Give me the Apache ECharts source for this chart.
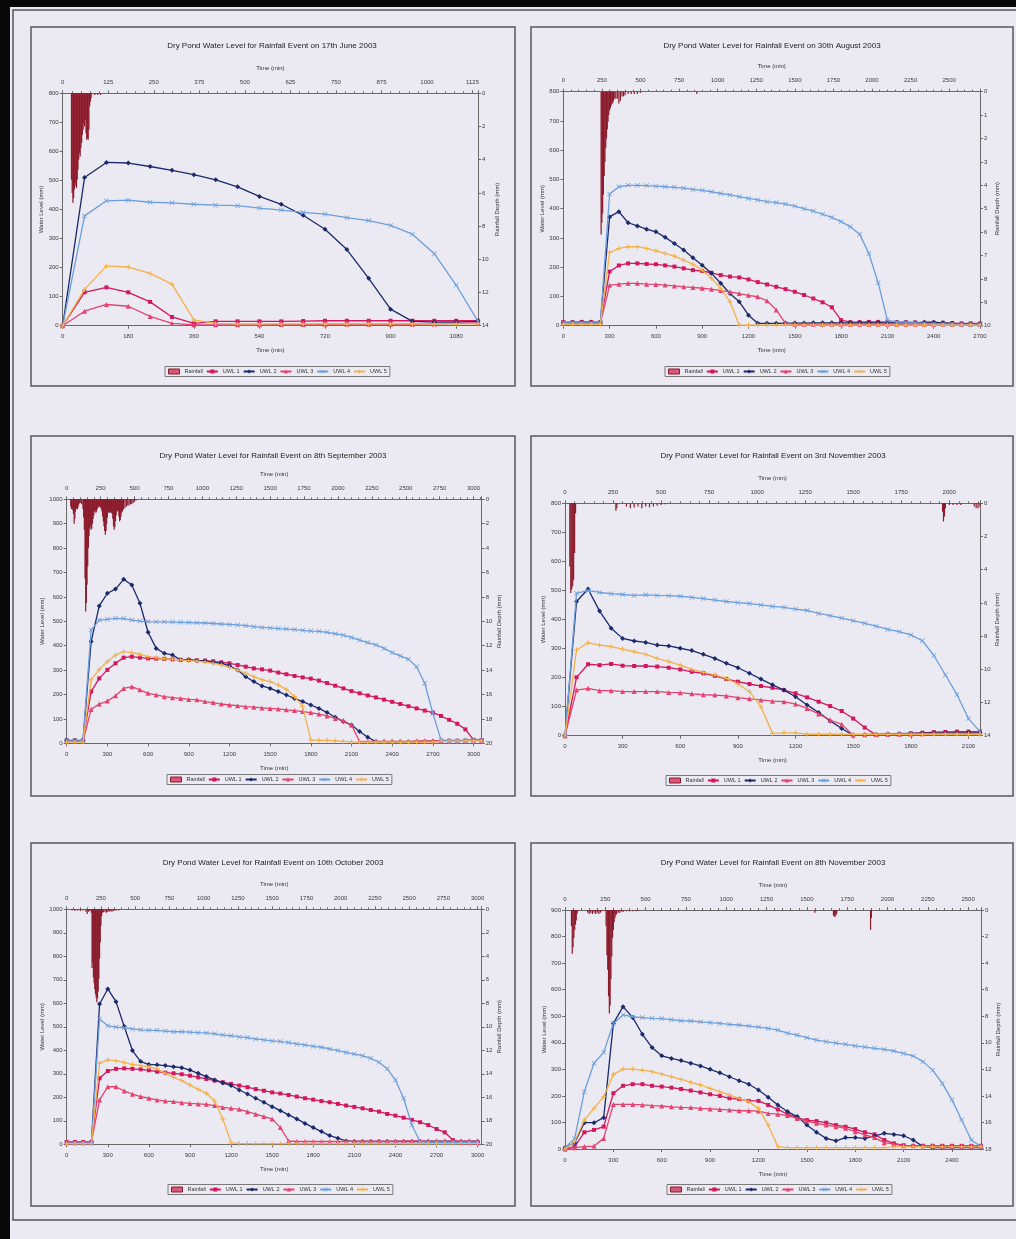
<!DOCTYPE html>
<html><head><meta charset="utf-8">
<script src="https://cdn.jsdelivr.net/npm/echarts@6/dist/echarts.min.js"></script>
<style>html,body{margin:0;padding:0;background:#ebeaf2;}#c{width:1016px;height:1239px;}</style>
</head><body><div id="c"></div>
<script>
// ---------- shared time grid (min) ----------
const TIME = [0,60,120,180,240,300,360,420,480,540,600,660,720,780,840,900,960,1020,1080,1140,1200,1260,1320,1380,1440,1500,1560,1620,1680,1740,1800,1860,1920,1980,2040,2100,2160,2220,2280,2340,2400,2460,2520,2580,2640,2700,2760,2820,2880,2940,3000,3060];
const SERIES_NAMES = ['UWL 1','UWL 2','UWL 3','UWL 4','UWL 5'];
const TITLES = [
 'Dry Pond Water Level for Rainfall Event on 17th June 2003',
 'Dry Pond Water Level for Rainfall Event on 30th August 2003',
 'Dry Pond Water Level for Rainfall Event on 8th September 2003',
 'Dry Pond Water Level for Rainfall Event on 3rd November 2003',
 'Dry Pond Water Level for Rainfall Event on 10th October 2003',
 'Dry Pond Water Level for Rainfall Event on 8th November 2003'
];

// ---------- 17 June 2003 ----------
const JUN17_UWL1 = [0,115,132,115,82,30,8,15,15,15,15,16,17,17,17,17,17,17,17,17];
const JUN17_UWL2 = [0,510,562,560,548,535,520,502,478,445,418,380,332,262,163,57,15,12,12,15];
const JUN17_UWL3 = [0,50,73,67,32,8,3,3,3,3,4,4,5,5,5,5,5,6,8,10];
const JUN17_UWL4 = [0,378,430,432,425,423,418,415,413,405,398,390,384,372,362,345,315,248,140,15];
const JUN17_UWL5 = [0,125,205,202,180,143,20,8,6,6,6,6,6,6,6,6,6,6,6,6];
const JUN17_RAIN_T = [24,26,28,30,32,34,36,38,40,42,44,46,48,50,52,54,56,58,60,62,64,66,68,70,72,74,76,78,88,96,104];
const JUN17_RAIN_D = [5.2,6.0,6.6,6.3,5.8,5.6,5.4,5.7,5.2,4.6,4.0,3.6,3.8,3.3,3.0,2.5,2.2,1.8,2.0,1.6,2.4,2.8,2.7,2.8,2.2,0.8,0.5,0.3,0.1,0.1,0.1];

// ---------- 30 August 2003 ----------
const AUG30_UWL1 = [12,12,13,13,12,185,206,213,213,211,210,206,202,196,190,187,181,173,168,165,158,149,141,133,125,116,105,93,80,63,19,12,12,13,13,12,12,12,11,10,10,10,9,8,8,8];
const AUG30_UWL2 = [10,10,10,10,10,372,390,352,341,330,321,302,281,259,232,207,179,145,110,82,36,8,8,8,9,9,9,10,10,10,10,10,10,10,10,10,10,10,10,12,12,10,8,6,5,5];
const AUG30_UWL3 = [8,8,8,8,8,138,142,145,145,142,141,139,136,133,131,128,125,120,116,110,104,99,85,54,8,5,5,5,5,5,5,5,5,5,5,5,5,5,5,5,5,5,5,5,5,5];
const AUG30_UWL4 = [10,10,10,10,10,450,475,480,480,479,477,475,473,470,466,463,458,452,447,441,435,430,424,421,416,409,400,392,381,370,356,338,313,247,147,19,12,12,10,8,6,5,5,4,4,4];
const AUG30_UWL5 = [5,5,5,5,5,250,264,270,270,264,256,247,238,224,210,190,162,128,82,2,2,2,2,2,2,2,2,2,2,2,2,2,2,2,2,2,2,2,2,2,2,2,2,2,2,2];
const AUG30_RAIN_T = [245,250,255,260,265,270,275,280,285,290,295,300,305,310,315,320,325,330,340,350,360,370,380,390,400,420,440,460,480,500,865];
const AUG30_RAIN_D = [6.1,5.6,5.2,4.4,3.6,3.0,2.4,2.0,1.6,1.3,1.0,0.8,0.7,0.6,0.5,0.5,0.4,0.3,0.3,0.3,0.5,0.4,0.2,0.2,0.15,0.1,0.1,0.1,0.1,0.05,0.1];

// ---------- 8 September 2003 ----------
const SEP8_UWL1 = [12,12,12,212,266,301,328,351,355,351,348,347,346,344,342,342,340,339,336,332,328,321,314,307,303,298,290,283,276,270,265,257,247,236,225,214,205,196,188,179,170,161,152,143,134,126,112,96,80,57,14,12];
const SEP8_UWL2 = [10,10,10,417,563,615,632,672,649,574,455,389,369,362,342,342,339,337,332,328,318,300,273,253,235,225,212,198,184,171,157,143,126,107,89,75,48,25,7,6,6,6,6,6,8,8,8,10,10,12,12,12];
const SEP8_UWL3 = [8,8,8,139,161,173,195,225,232,219,205,198,191,187,184,180,178,171,167,161,157,154,150,148,145,143,141,137,134,130,126,120,112,102,93,75,7,8,8,8,8,8,8,10,10,10,12,12,12,12,14,14];
const SEP8_UWL4 = [10,10,10,464,505,508,512,511,505,501,499,498,498,497,496,495,494,493,491,489,487,485,482,478,475,473,470,468,466,463,460,459,455,449,443,434,423,413,403,389,372,358,344,314,246,123,14,10,10,10,12,12];
const SEP8_UWL5 = [5,5,5,260,303,335,362,376,372,365,355,351,347,344,342,339,337,333,328,321,311,300,287,273,260,253,239,221,191,150,14,12,12,10,8,6,5,5,5,5,5,5,5,5,5,5,8,8,8,10,10,10];
const SEP8_RAIN_T = [30,35,40,45,50,55,60,65,70,75,80,85,90,95,100,110,120,125,130,135,140,145,150,155,160,165,170,175,180,185,190,195,200,205,210,215,220,225,230,235,240,245,250,255,260,265,270,275,280,285,290,295,300,305,310,315,320,325,330,335,340,345,350,355,360,365,370,375,380,385,390,395,400,405,410,415,420,430,440,450,460,470,480,490,500,510];
const SEP8_RAIN_D = [0.6,0.8,0.7,0.9,1.2,2.0,1.6,1.0,0.8,0.7,0.8,0.6,0.4,0.3,0.3,0.4,0.8,1.5,2.5,6.5,9.2,8.5,7.0,5.5,4.0,3.0,2.4,2.2,2.5,2.4,2.0,1.6,1.3,1.0,0.9,1.1,1.0,0.8,0.7,0.6,0.6,0.6,0.7,0.8,1.0,1.4,1.8,2.2,2.6,2.9,2.6,2.0,1.5,1.1,1.0,1.1,1.1,1.0,1.1,1.2,1.6,2.2,2.5,2.3,1.8,1.3,1.0,0.9,1.0,1.4,1.8,1.7,1.4,1.1,1.0,0.9,0.8,0.7,0.6,0.5,0.5,0.4,0.4,0.3,0.2,0.1];

// ---------- 3 November 2003 ----------
const NOV3_UWL1 = [0,201,246,243,247,241,240,240,238,234,228,220,215,206,195,186,178,171,165,157,146,132,117,102,85,59,28,2,4,5,8,10,12,13,14,14,14];
const NOV3_UWL2 = [0,462,505,429,370,335,326,321,312,309,301,293,280,266,249,234,215,195,175,157,134,106,80,51,25,2,4,5,6,7,8,9,10,10,10,10,10];
const NOV3_UWL3 = [0,157,163,155,155,152,152,152,152,149,148,144,141,140,137,131,127,123,119,117,109,94,75,54,39,2,3,4,5,5,6,7,8,8,8,8,8];
const NOV3_UWL4 = [0,490,500,493,489,486,483,485,483,482,480,476,472,467,462,458,455,450,445,442,436,431,421,413,405,396,387,377,366,358,347,327,276,209,142,59,14];
const NOV3_UWL5 = [0,295,320,312,307,298,289,280,266,255,243,228,218,209,197,178,152,100,8,10,10,5,5,5,5,5,5,5,5,5,5,5,5,5,5,5,5];
const NOV3_RAIN_T = [25,30,35,40,45,50,55,265,270,320,340,360,380,400,420,440,460,480,500,520,1965,1970,1975,1980,2000,2020,2040,2060,2130,2140,2150,2160];
const NOV3_RAIN_D = [3.8,5.4,5.2,5.0,4.6,3.0,0.6,0.45,0.3,0.2,0.3,0.25,0.2,0.3,0.2,0.25,0.2,0.15,0.1,0.05,0.5,1.1,0.8,0.3,0.1,0.1,0.1,0.1,0.2,0.3,0.3,0.2];

// ---------- 10 October 2003 ----------
const OCT10_UWL1 = [10,10,10,10,281,312,321,323,321,319,315,309,305,302,298,292,285,278,271,264,257,250,243,235,228,221,216,210,203,196,190,184,179,172,165,159,153,146,139,129,122,113,104,94,82,65,51,18,5,5,5];
const OCT10_UWL2 = [5,5,5,5,597,661,607,501,399,352,340,338,335,330,326,316,302,288,274,261,250,231,214,196,179,160,143,125,108,89,71,54,37,26,14,12,12,12,12,12,12,12,12,12,12,12,12,12,12,12,12];
const OCT10_UWL3 = [8,8,8,8,189,245,245,227,213,203,196,189,184,182,177,174,172,170,165,157,153,149,139,128,118,108,71,14,12,12,12,12,12,12,12,13,13,13,13,13,13,14,14,14,14,14,14,14,14,14,14];
const OCT10_UWL4 = [5,5,5,5,533,504,499,496,491,487,485,485,482,479,479,477,475,474,470,465,462,457,454,448,444,440,437,433,427,423,417,413,406,399,391,384,377,366,349,321,274,196,82,11,8,8,8,8,8,8,8];
const OCT10_UWL5 = [3,3,3,3,345,359,356,348,340,335,330,321,302,285,271,252,234,217,184,108,7,3,3,3,3,3,3,3,3,3,3,3,3,3,3,3,3,3,3,3,3,3,3,3,3,3,3,3,3,3,3];
const OCT10_RAIN_T = [40,60,80,100,120,140,150,160,170,180,185,190,195,200,205,210,215,220,225,230,235,240,245,250,255,260,270,280,290,300,310,320,330,340,350,360,380];
const OCT10_RAIN_D = [0.1,0.15,0.1,0.15,0.1,0.2,0.4,0.2,0.15,0.3,5.0,4.5,5.8,6.3,6.8,7.2,7.5,7.9,7.6,7.0,5.9,4.2,2.8,1.4,0.6,0.3,0.25,0.2,0.3,0.2,0.2,0.15,0.2,0.15,0.1,0.1,0.1];

// ---------- 8 November 2003 ----------
const NOV8_UWL1 = [0,9,63,72,84,210,238,244,244,238,235,231,226,220,213,206,200,191,188,181,181,166,149,131,118,109,105,99,90,84,75,63,55,34,21,14,12,12,12,12,12,12,12,12];
const NOV8_UWL2 = [5,24,99,99,118,473,536,495,432,382,351,341,333,323,313,300,287,272,257,244,222,195,166,141,122,90,63,40,31,43,43,40,49,59,55,50,34,9,5,5,5,5,5,5];
const NOV8_UWL3 = [0,5,9,11,40,168,168,168,166,163,162,159,157,156,153,151,149,147,144,144,143,134,131,126,115,105,97,90,84,78,65,53,43,24,18,12,12,12,12,10,10,10,10,10];
const NOV8_UWL4 = [5,40,216,323,364,473,505,498,495,492,491,487,483,482,479,476,473,469,467,463,459,454,448,436,429,419,410,404,399,394,388,384,379,375,369,360,350,329,297,247,185,109,34,9];
const NOV8_UWL5 = [0,28,109,153,197,281,301,301,297,291,282,272,262,251,241,228,216,203,191,178,153,90,9,5,5,5,5,5,5,5,5,5,5,5,8,8,8,8,8,8,8,8,8,8];
const NOV8_RAIN_T = [40,45,50,55,60,65,70,75,80,140,150,160,170,180,190,200,210,220,230,255,260,265,270,275,280,285,290,295,300,305,310,315,320,330,340,350,360,380,400,420,440,460,1550,1665,1670,1675,1680,1685,1895,1900];
const NOV8_RAIN_D = [1.2,3.3,2.8,2.1,1.5,1.1,0.8,0.3,0.1,0.2,0.3,0.2,0.3,0.2,0.3,0.2,0.3,0.2,0.1,1.2,3.4,4.5,6.5,7.8,7.2,5.2,3.5,2.1,1.5,0.9,0.6,0.4,0.3,0.2,0.2,0.1,0.15,0.1,0.1,0.1,0.1,0.05,0.2,0.4,0.5,0.5,0.4,0.3,1.5,0.6];

// ---------- layout / styling ----------
const FONT = '"Liberation Sans", Arial, sans-serif';
const LINE_STYLES = [
  {color:'#d2175c', symbol:'rect', size:4},
  {color:'#1c2a6c', symbol:'diamond', size:5},
  {color:'#e2436f', symbol:'triangle', size:5},
  {color:'#6b9edb', symbol:'path://M0,1L1,0L5,4L9,0L10,1L6,5L10,9L9,10L5,6L1,10L0,9L4,5Z', size:5},
  {color:'#f2b14a', symbol:'path://M4,0H6V4H10V6H6V10H4V6H0V4H4Z', size:5}
];
const RAIN_COLOR = '#8b1a2b';
const PANELS = [
 {uwl:[JUN17_UWL1,JUN17_UWL2,JUN17_UWL3,JUN17_UWL4,JUN17_UWL5], rt:JUN17_RAIN_T, rd:JUN17_RAIN_D,
  xMax:1140, xInt:180, tInt:125, yMax:800, yInt:100, rMax:14, rInt:2,
  grid:[62.7,93.3,415.3,232.4], title:[272,46], legend:[165,366.5], lGap:17, rGap:16, box:[31,27,484,359]},
 {uwl:[AUG30_UWL1,AUG30_UWL2,AUG30_UWL3,AUG30_UWL4,AUG30_UWL5], rt:AUG30_RAIN_T, rd:AUG30_RAIN_D,
  xMax:2700, xInt:300, tInt:250, yMax:800, yInt:100, rMax:10, rInt:1,
  grid:[563.3,91.7,416.7,234], title:[772,46], legend:[665,366.5], lGap:16, rGap:10, box:[531,27,482,359]},
 {uwl:[SEP8_UWL1,SEP8_UWL2,SEP8_UWL3,SEP8_UWL4,SEP8_UWL5], rt:SEP8_RAIN_T, rd:SEP8_RAIN_D,
  xMax:3060, xInt:300, tInt:250, yMax:1000, yInt:100, rMax:20, rInt:2,
  grid:[66.7,499.3,415,244], title:[273,456], legend:[167,774.5], lGap:20, rGap:13, box:[31,436,484,360]},
 {uwl:[NOV3_UWL1,NOV3_UWL2,NOV3_UWL3,NOV3_UWL4,NOV3_UWL5], rt:NOV3_RAIN_T, rd:NOV3_RAIN_D,
  xMax:2160, xInt:300, tInt:250, yMax:800, yInt:100, rMax:14, rInt:2,
  grid:[565,503.3,415,232.4], title:[773,456], legend:[666,775.5], lGap:19, rGap:14, box:[531,436,482,360]},
 {uwl:[OCT10_UWL1,OCT10_UWL2,OCT10_UWL3,OCT10_UWL4,OCT10_UWL5], rt:OCT10_RAIN_T, rd:OCT10_RAIN_D,
  xMax:3030, xInt:300, tInt:250, yMax:1000, yInt:100, rMax:20, rInt:2,
  grid:[66.7,909.3,415,235], title:[273,863], legend:[168,1184.5], lGap:20, rGap:14, box:[31,843,484,363]},
 {uwl:[NOV8_UWL1,NOV8_UWL2,NOV8_UWL3,NOV8_UWL4,NOV8_UWL5], rt:NOV8_RAIN_T, rd:NOV8_RAIN_D,
  xMax:2580, xInt:300, tInt:250, yMax:900, yInt:100, rMax:18, rInt:2,
  grid:[565,910,416,239], title:[773,863], legend:[667,1184.5], lGap:18, rGap:13, box:[531,843,482,363]}
];

const AX = '#6a6a6a';
const lbl = (m, showMax) => ({fontSize:6, color:'#3a3a3a', margin:m, fontFamily:FONT, showMaxLabel:showMax, formatter:(v)=>String(v)});
const nameTS = {fontSize:6, color:'#333', fontFamily:FONT};
const axisLine = {show:true, onZero:false, lineStyle:{color:AX, width:1}};
const tick = {show:true, length:3, lineStyle:{color:AX, width:1}};

const option = {
  animation:false,
  backgroundColor:'#ebeaf2',
  textStyle:{fontFamily:FONT},
  grid:[], xAxis:[], yAxis:[], legend:[], series:[],
  graphic:{elements:[]}
};

PANELS.forEach((p,i)=>{
  option.grid.push({left:p.grid[0], top:p.grid[1], width:p.grid[2], height:p.grid[3], show:false});
  option.xAxis.push({type:'value', gridIndex:i, position:'bottom', min:0, max:p.xMax, interval:p.xInt,
    name:'Time (min)', nameLocation:'middle', nameGap:22, nameTextStyle:nameTS,
    axisLine, axisTick:tick, axisLabel:lbl(8, p.xMax % p.xInt === 0), splitLine:{show:false}});
  option.xAxis.push({type:'value', gridIndex:i, position:'top', min:0, max:p.xMax, interval:p.tInt,
    name:'Time (min)', nameLocation:'middle', nameGap:22, nameTextStyle:nameTS,
    axisLine, axisTick:tick, minorTick:{show:true, splitNumber:5, length:2, lineStyle:{color:AX}},
    axisLabel:lbl(8, p.xMax % p.tInt === 0), splitLine:{show:false}, minorSplitLine:{show:false}});
  option.yAxis.push({type:'value', gridIndex:i, position:'left', min:0, max:p.yMax, interval:p.yInt,
    name:'Water Level (mm)', nameLocation:'middle', nameGap:p.lGap, nameRotate:90, nameTextStyle:nameTS,
    axisLine, axisTick:tick, axisLabel:lbl(4, true), splitLine:{show:false}});
  option.yAxis.push({type:'value', gridIndex:i, position:'right', inverse:true, min:0, max:p.rMax, interval:p.rInt,
    name:'Rainfall Depth (mm)', nameLocation:'middle', nameGap:p.rGap, nameRotate:90, nameTextStyle:nameTS,
    axisLine, axisTick:tick, axisLabel:lbl(4, true), splitLine:{show:false}});

  option.series.push({type:'bar', name:'Rainfall', xAxisIndex:2*i+1, yAxisIndex:2*i+1,
    data:p.rt.map((t,k)=>[t,p.rd[k]]), barWidth:1.2, itemStyle:{color:RAIN_COLOR}, z:1});
  LINE_STYLES.forEach((s,k)=>{
    option.series.push({type:'line', name:SERIES_NAMES[k], xAxisIndex:2*i, yAxisIndex:2*i,
      data:p.uwl[k].map((v,j)=>[TIME[j],v]), symbol:s.symbol, symbolSize:s.size, showSymbol:true,
      lineStyle:{color:s.color, width:1.3}, itemStyle:{color:s.color}, z:2+k});
  });

  option.legend.push({left:p.legend[0], top:p.legend[1], orient:'horizontal', selectedMode:false,
    data:[{name:'Rainfall', icon:'rect', itemStyle:{color:'#d9577a', borderColor:RAIN_COLOR, borderWidth:1}}].concat(SERIES_NAMES),
    itemWidth:11, itemHeight:5, itemGap:3, padding:[2,3], borderColor:'#7a7a7a', borderWidth:1,
    textStyle:{fontSize:5.5, color:'#333', fontFamily:FONT}});

  option.graphic.elements.push({type:'rect', silent:true, z:-1,
    shape:{x:p.box[0], y:p.box[1], width:p.box[2], height:p.box[3]},
    style:{fill:null, stroke:'#5a5a5a', lineWidth:1.5}});
  option.graphic.elements.push({type:'text', silent:true,
    style:{text:TITLES[i], x:p.title[0], y:p.title[1], align:'center', verticalAlign:'middle',
      fontSize:8, fontFamily:FONT, fill:'#222'}});
});

// page frame (scanned page borders)
option.graphic.elements.push({type:'rect', silent:true, shape:{x:0,y:0,width:10,height:1239}, style:{fill:'#080808'}});
option.graphic.elements.push({type:'rect', silent:true, shape:{x:0,y:0,width:1016,height:7}, style:{fill:'#080808'}});
option.graphic.elements.push({type:'rect', silent:true, shape:{x:13,y:10,width:1010,height:1210}, style:{fill:null, stroke:'#555', lineWidth:1.5}});

const chart = echarts.init(document.getElementById('c'), null, {renderer:'canvas'});
chart.setOption(option);
</script>
</body></html>
